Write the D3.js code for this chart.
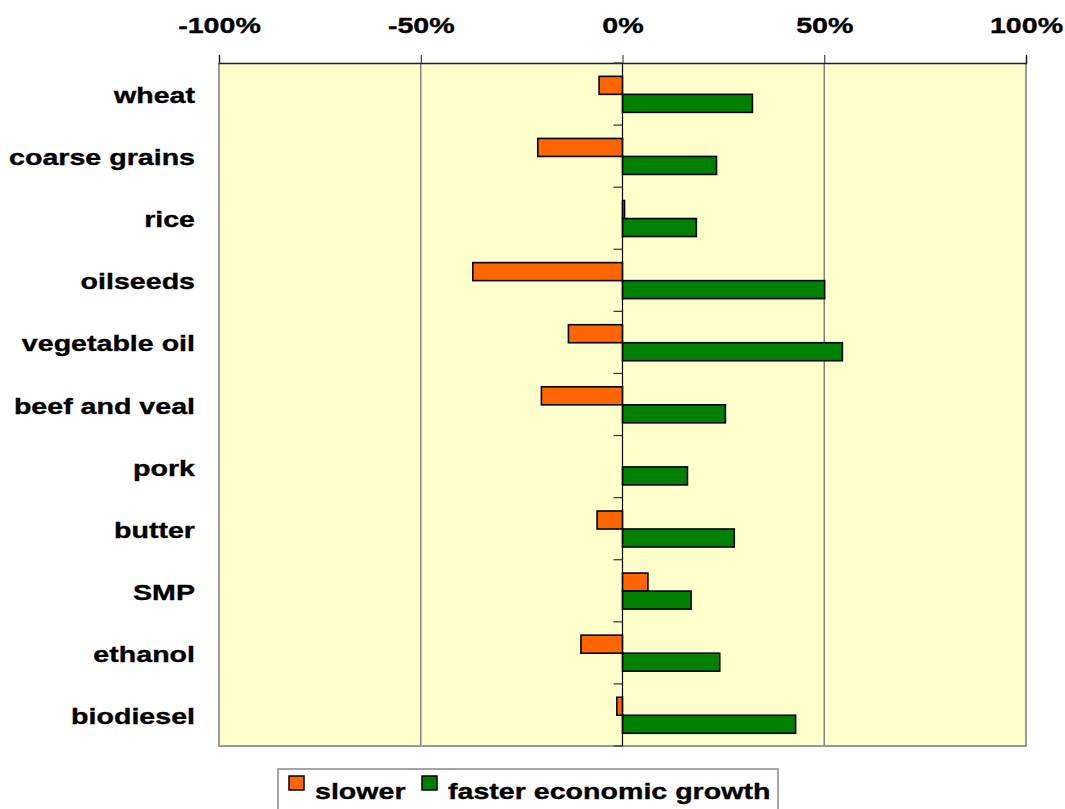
<!DOCTYPE html>
<html>
<head>
<meta charset="utf-8">
<script src="https://cdn.jsdelivr.net/npm/d3@7"></script>
<style>
  html, body { margin: 0; padding: 0; background: #fff; }
  svg { display: block; }
  text { font-family: Arial, "Liberation Sans", sans-serif; font-weight: bold; fill: #000; stroke: #000; stroke-width: 0.35px; }
</style>
</head>
<body>
<svg id="chart" width="1065" height="809"></svg>
<script>
// Categories, top to bottom
const categories = ["wheat", "coarse grains", "rice", "oilseeds", "vegetable oil",
  "beef and veal", "pork", "butter", "SMP", "ethanol", "biodiesel"];
// Percentage change under the slower economic growth scenario
const slower = [-5.8, -21.0, 0.5, -37.1, -13.4, -20.1, 0, -6.3, 6.3, -10.3, -1.4];
// Percentage change under the faster economic growth scenario
const faster = [32.2, 23.3, 18.3, 50.1, 54.5, 25.5, 16.1, 27.7, 17.0, 24.1, 42.9];
// Axis ticks
const xTicks = [-100, -50, 0, 50, 100];
const seriesNames = ["slower", "faster economic growth"];
const seriesColors = ["#FF6600", "#008000"];

const svg = d3.select("#chart");
const plot = { left: 219, right: 1026, top: 63, bottom: 746 };
const textScaleX = 1.3;
const fontSize = 22;

const x = d3.scaleLinear().domain([-100, 100]).range([plot.left, plot.right]);
const y = d3.scaleBand().domain(categories).range([plot.top, plot.bottom]).padding(0);
const bw = y.bandwidth();

// Plot background
svg.append("rect")
  .attr("x", plot.left).attr("y", plot.top)
  .attr("width", plot.right - plot.left).attr("height", plot.bottom - plot.top)
  .attr("fill", "#FFFFCC");

// Vertical gridlines
svg.append("g").selectAll("line")
  .data(xTicks.filter(d => d !== 0 && Math.abs(d) !== 100))
  .join("line")
  .attr("x1", d => x(d)).attr("x2", d => x(d))
  .attr("y1", plot.top).attr("y2", plot.bottom)
  .attr("stroke", "#808080").attr("stroke-width", 1.5);

// Plot frame (left, right, bottom)
svg.append("path")
  .attr("d", `M${plot.left},${plot.top}V${plot.bottom}H${plot.right}V${plot.top}`)
  .attr("fill", "none").attr("stroke", "#999").attr("stroke-width", 2);

// Top value axis
const xAxis = svg.append("g")
  .attr("transform", `translate(0,${plot.top})`)
  .call(d3.axisTop(x).tickValues(xTicks).tickFormat(d => d + "%").tickSize(8).tickPadding(0));
xAxis.select(".domain").attr("stroke", "#222").attr("stroke-width", 1.5);
xAxis.selectAll(".tick line").attr("stroke", "#222");
xAxis.selectAll(".tick text")
  .attr("font-size", fontSize).attr("y", 0)
  .attr("transform", `translate(0,-30) scale(${textScaleX},1)`)
  .style("font-family", "Arial, 'Liberation Sans', sans-serif")
  .style("font-weight", "bold").attr("fill", "#000");

// Bars
const group = svg.append("g");
[slower, faster].forEach((vals, s) => {
  group.selectAll(null)
    .data(categories.map((c, i) => ({ c, v: vals[i] })).filter(d => d.v !== 0))
    .join("rect")
    .attr("x", d => x(Math.min(0, d.v)))
    .attr("width", d => Math.abs(x(d.v) - x(0)))
    .attr("y", d => y(d.c) + bw * 0.215 + s * bw * 0.29)
    .attr("height", bw * 0.29)
    .attr("fill", seriesColors[s])
    .attr("stroke", "#000").attr("stroke-width", 1.6);
});

// Category axis at zero
const yAxis = svg.append("g")
  .attr("transform", `translate(${x(0)},0)`);
yAxis.append("line")
  .attr("x1", 0).attr("x2", 0).attr("y1", plot.top).attr("y2", plot.bottom)
  .attr("stroke", "#000").attr("stroke-width", 1.2);
yAxis.selectAll("line.tk")
  .data(d3.range(categories.length + 1))
  .join("line").attr("class", "tk")
  .attr("x1", -9).attr("x2", 0)
  .attr("y1", i => plot.top + i * bw).attr("y2", i => plot.top + i * bw)
  .attr("stroke", "#333").attr("stroke-width", 1.2);

// Category labels
svg.append("g").selectAll("text")
  .data(categories)
  .join("text")
  .attr("transform", d => `translate(195,${y(d) + bw / 2 + 9}) scale(${textScaleX},1)`)
  .attr("text-anchor", "end")
  .attr("font-size", fontSize)
  .text(d => d);

// Legend
const legend = svg.append("g");
legend.append("rect")
  .attr("x", 278).attr("y", 769).attr("width", 500).attr("height", 50)
  .attr("fill", "#fff").attr("stroke", "#888").attr("stroke-width", 1.5);
const legendX = [289, 422];
seriesNames.forEach((name, i) => {
  legend.append("rect")
    .attr("x", legendX[i]).attr("y", 776).attr("width", 15).attr("height", 14)
    .attr("fill", seriesColors[i]).attr("stroke", "#000").attr("stroke-width", 1.5);
  legend.append("text")
    .attr("transform", `translate(${legendX[i] + 26},799) scale(${textScaleX},1)`)
    .attr("font-size", fontSize)
    .text(name);
});
</script>
</body>
</html>
